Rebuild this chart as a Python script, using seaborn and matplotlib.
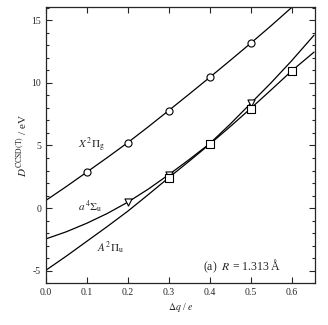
import matplotlib
matplotlib.use("Agg")
import matplotlib.pyplot as plt
import seaborn as sns
import pandas as pd
from matplotlib.ticker import MultipleLocator, FormatStrFormatter

# curve readings (x = charge transfer, y = energy in eV)
curve_x = [0.0, 0.05, 0.1, 0.15, 0.2, 0.25, 0.3, 0.35, 0.4, 0.45, 0.5, 0.55, 0.6, 0.655]
curve_X = [0.62, 1.73, 2.88, 4.04, 5.23, 6.49, 7.79, 9.10, 10.43, 11.78, 13.15, 14.55, 16.0, 17.6]
curve_a = [-2.45, -1.88, -1.20, -0.42, 0.48, 1.52, 2.67, 3.88, 5.15, 6.70, 8.35, 10.0, 11.75, 13.8]
curve_A = [-4.95, -3.82, -2.64, -1.46, -0.24, 1.08, 2.43, 3.75, 5.10, 6.50, 7.95, 9.43, 10.94, 12.45]

# computed points (markers)
pts_X_x = [0.1, 0.2, 0.3, 0.4, 0.5]
pts_X_y = [2.88, 5.23, 7.79, 10.43, 13.15]
pts_a_x = [0.2, 0.3, 0.4, 0.5]
pts_a_y = [0.48, 2.67, 5.15, 8.35]
pts_A_x = [0.3, 0.4, 0.5, 0.6]
pts_A_y = [2.43, 5.10, 7.95, 10.94]

xticks = [0.0, 0.1, 0.2, 0.3, 0.4, 0.5, 0.6]
yticks = [-5, 0, 5, 10, 15]

sns.set_style("ticks")
plt.rcParams['font.family'] = ['Liberation Serif', 'DejaVu Serif']
plt.rcParams['mathtext.fontset'] = 'stix'
plt.rcParams['axes.unicode_minus'] = False

fig = plt.figure(figsize=(3.28, 3.25), dpi=100)
ax = fig.add_axes([0.140, 0.128, 0.820, 0.851])

lw = 0.9
for ys in (curve_X, curve_a, curve_A):
    df = pd.DataFrame({"x": curve_x, "y": ys})
    sns.lineplot(data=df, x="x", y="y", ax=ax, color="black", linewidth=lw,
                 sort=True, estimator=None)

ms = 26
for xs, ys, m in ((pts_X_x, pts_X_y, "o"), (pts_a_x, pts_a_y, "v"), (pts_A_x, pts_A_y, "s")):
    df = pd.DataFrame({"x": xs, "y": ys})
    sns.scatterplot(data=df, x="x", y="y", ax=ax, marker=m, s=ms,
                    facecolor="white", edgecolor="black", linewidth=0.8, zorder=3)

ax.set_xlim(0.0, 0.657)
ax.set_ylim(-6, 16.06)
ax.set_xticks(xticks)
ax.set_yticks(yticks)
ax.xaxis.set_major_formatter(FormatStrFormatter('%.1f'))
ax.yaxis.set_minor_locator(MultipleLocator(1))
ax.tick_params(which='both', direction='in', top=True, right=True, labelsize=7, width=0.8)
ax.tick_params(which='major', length=4)
ax.tick_params(which='minor', length=2.2)
for s in ax.spines.values():
    s.set_linewidth(0.9)
    s.set_visible(True)

ax.set_xlabel(r"$\Delta q$ / $e$", fontsize=7, labelpad=3)
ax.set_ylabel(r"$D^{\rm CCSD(T)}$ / eV", fontsize=8, labelpad=2)

ax.text(0.11, 5.0, r"$X\,^2\Pi_{\rm g}$", fontsize=8, ha="center", va="center")
ax.text(0.107, 0.1, r"$a\,^4\Sigma_{\rm u}$", fontsize=8, ha="center", va="center")
ax.text(0.157, -3.15, r"$A\,^2\Pi_{\rm u}$", fontsize=8, ha="center", va="center")
ax.text(0.48, -4.67, r"(a)  $R$ = 1.313 Å", fontsize=8.5, ha="center", va="center")

fig.savefig("out.png", dpi=100)
